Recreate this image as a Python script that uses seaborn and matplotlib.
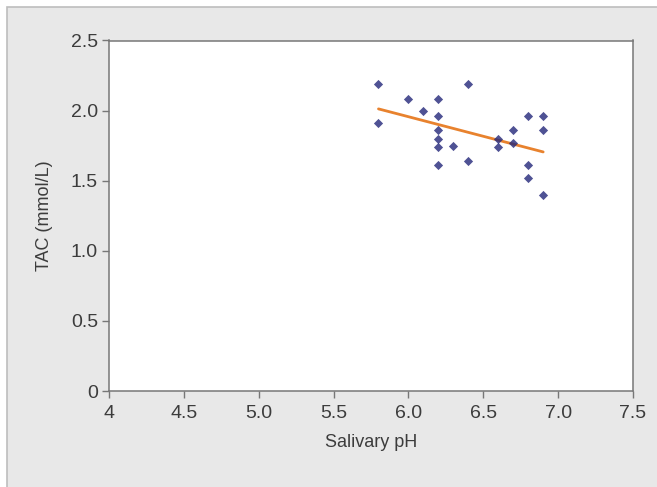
import seaborn as sns
import matplotlib.pyplot as plt
from matplotlib.patches import Rectangle
import pandas as pd

# salivary pH vs total antioxidant capacity
ph = [5.8, 5.8, 6.0, 6.1, 6.2, 6.2, 6.2, 6.2, 6.2, 6.2, 6.3, 6.4, 6.4,
      6.6, 6.6, 6.7, 6.7, 6.8, 6.8, 6.8, 6.9, 6.9, 6.9]
tac = [2.19, 1.91, 2.08, 2.00, 2.08, 1.96, 1.86, 1.80, 1.74, 1.61, 1.75, 2.19, 1.64,
       1.80, 1.74, 1.86, 1.77, 1.96, 1.61, 1.52, 1.96, 1.86, 1.40]

x_ticks = [4, 4.5, 5.0, 5.5, 6.0, 6.5, 7.0, 7.5]
x_labels = ["4", "4.5", "5.0", "5.5", "6.0", "6.5", "7.0", "7.5"]
y_ticks = [0, 0.5, 1.0, 1.5, 2.0, 2.5]
y_labels = ["0", "0.5", "1.0", "1.5", "2.0", "2.5"]

df = pd.DataFrame({"ph": ph, "tac": tac})

sns.set_style("white")
plt.rcParams["font.family"] = ["Liberation Sans", "DejaVu Sans"]

fig = plt.figure(figsize=(6.57, 4.87), dpi=100)
fig.patch.set_facecolor("white")
# grey panel behind the chart
fig.patches.append(Rectangle((7 / 657, -0.01), 1.0, 1 - 7 / 487 + 0.01,
                             transform=fig.transFigure, facecolor="#e8e8e8",
                             edgecolor="#bdbdbd", linewidth=1.2, zorder=-5))

ax = fig.add_axes([109 / 657, 96 / 487, 524 / 657, 350.5 / 487])
ax.set_facecolor("white")

sns.regplot(data=df, x="ph", y="tac", ax=ax, ci=None, truncate=True,
            marker="D",
            scatter_kws={"s": 22, "color": "#23277a", "linewidths": 0, "zorder": 3},
            line_kws={"color": "#e8822e", "linewidth": 2.0, "zorder": 2})

ax.set_xlim(4, 7.5)
ax.set_ylim(0, 2.5)
ax.set_xticks(x_ticks, x_labels)
ax.set_yticks(y_ticks, y_labels)
ax.tick_params(axis="both", direction="out", length=5, width=1, color="#777777",
               labelsize=14, labelcolor="#3c3c3c", bottom=True, left=True)
ax.tick_params(axis="x", pad=5)
ax.tick_params(axis="y", pad=3)
for s in ax.spines.values():
    s.set_color("#777777")
    s.set_linewidth(1.1)

ax.set_xlabel("Salivary pH", fontsize=13, color="#3c3c3c", labelpad=9)
ax.set_ylabel("TAC (mmol/L)", fontsize=13, color="#3c3c3c", labelpad=13)

fig.savefig("out.png", dpi=100)
